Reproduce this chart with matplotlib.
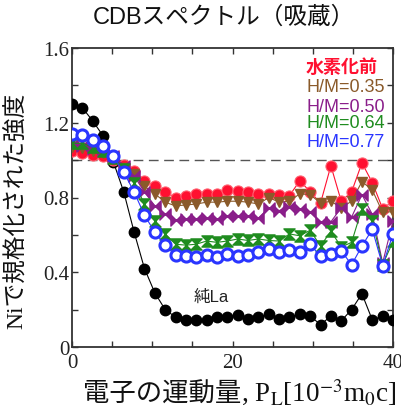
import matplotlib
matplotlib.use("Agg")
import matplotlib.pyplot as plt
from matplotlib.path import Path
from matplotlib.ticker import MultipleLocator, FuncFormatter

# ---- data ----
x = [0.00, 1.29, 2.58, 3.87, 5.16, 6.45, 7.74, 9.03, 10.32, 11.61, 12.90, 14.19,
     15.48, 16.77, 18.06, 19.35, 20.65, 21.94, 23.23, 24.52, 25.81, 27.10, 28.39,
     29.68, 30.97, 32.26, 33.55, 34.84, 36.13, 37.42, 38.71, 40.00]

pure_la = [1.30, 1.28, 1.21, 1.13, 0.99, 0.83, 0.615, 0.42, 0.29, 0.20, 0.16, 0.145,
           0.145, 0.145, 0.16, 0.16, 0.17, 0.15, 0.16, 0.175, 0.15, 0.16, 0.175, 0.165,
           0.12, 0.165, 0.14, 0.20, 0.285, 0.145, 0.165, 0.145]
before = [1.05, 1.04, 1.03, 1.02, 1.00, 0.975, 0.94, 0.89, 0.86, 0.83, 0.80, 0.81,
          0.82, 0.82, 0.82, 0.84, 0.835, 0.83, 0.82, 0.82, 0.815, 0.81, 0.89, 0.83,
          0.77, 0.97, 0.78, 0.83, 0.985, 0.88, 0.74, 0.78]
hm035 = [1.07, 1.065, 1.05, 1.04, 1.01, 0.96, 0.925, 0.86, 0.82, 0.775, 0.755, 0.76,
         0.765, 0.775, 0.775, 0.78, 0.78, 0.775, 0.765, 0.80, 0.775, 0.78, 0.82, 0.815,
         0.77, 0.78, 0.745, 0.78, 0.885, 0.84, 0.72, 0.725]
hm050 = [1.08, 1.075, 1.06, 1.05, 1.02, 0.97, 0.915, 0.83, 0.755, 0.71, 0.68, 0.685,
         0.685, 0.69, 0.685, 0.70, 0.70, 0.70, 0.69, 0.745, 0.73, 0.75, 0.74, 0.72,
         0.67, 0.67, 0.745, 0.695, 0.815, 0.71, 0.45, 0.675]
hm064 = [1.09, 1.09, 1.07, 1.05, 1.01, 0.95, 0.88, 0.765, 0.675, 0.605, 0.55, 0.545,
         0.55, 0.567, 0.56, 0.567, 0.578, 0.57, 0.578, 0.57, 0.567, 0.605, 0.595, 0.625,
         0.54, 0.62, 0.535, 0.56, 0.74, 0.675, 0.44, 0.565]
hm077 = [1.14, 1.135, 1.11, 1.075, 1.02, 0.935, 0.83, 0.705, 0.615, 0.545, 0.49, 0.485,
         0.48, 0.49, 0.48, 0.50, 0.485, 0.49, 0.51, 0.525, 0.51, 0.52, 0.51, 0.55,
         0.485, 0.50, 0.515, 0.44, 0.54, 0.63, 0.435, 0.605]

legend_labels = ["水素化前", "H/M=0.35", "H/M=0.50", "H/M=0.64", "H/M=0.77"]

# ---- styles ----
C_RED = "#ff1030"
C_BROWN = "#8a5a2a"
C_PURPLE = "#8a1e8a"
C_GREEN = "#1f8c1f"
C_BLUE = "#2a35ff"

bowtie = Path([(-1, -1), (-1, 1), (0, 0), (-1, -1), (1, -1), (1, 1), (0, 0), (1, -1)],
              [Path.MOVETO, Path.LINETO, Path.LINETO, Path.CLOSEPOLY,
               Path.MOVETO, Path.LINETO, Path.LINETO, Path.CLOSEPOLY])
hourglass = Path([(-1, 1), (1, 1), (0, 0), (-1, 1), (-1, -1), (1, -1), (0, 0), (-1, -1)],
                 [Path.MOVETO, Path.LINETO, Path.LINETO, Path.CLOSEPOLY,
                  Path.MOVETO, Path.LINETO, Path.LINETO, Path.CLOSEPOLY])

plt.rcParams['font.family'] = ['Liberation Sans', 'Noto Sans CJK JP']
plt.rcParams['mathtext.fontset'] = 'stix'

fig = plt.figure(figsize=(4.01, 4.10), dpi=100)
ax = fig.add_axes([72/401, 62/410, 321/401, 299/410])

ax.axhline(1.0, color="#555555", lw=1.0, dashes=(7, 4), zorder=1)

ax.plot(x, pure_la, color="black", lw=0.8, marker="o", ms=7.5, mfc="black",
        mec="black", zorder=3)
ax.plot(x, before, color=C_RED, lw=0.8, marker="o", ms=8, mfc=C_RED,
        mec="#ff6070", mew=0.8, zorder=4)
ax.plot(x, hm035, color=C_BROWN, lw=0.8, marker="v", ms=7, mfc=C_BROWN,
        mec=C_BROWN, zorder=5)
ax.plot(x, hm050, color=C_PURPLE, lw=0.8, marker=bowtie, ms=8, mfc=C_PURPLE,
        mec=C_PURPLE, zorder=5)
ax.plot(x, hm064, color=C_GREEN, lw=0.8, marker=hourglass, ms=8, mfc=C_GREEN,
        mec=C_GREEN, zorder=5)
ax.plot(x, hm077, color=C_BLUE, lw=0.8, marker="o", ms=8, mfc="white",
        mec=C_BLUE, mew=2.2, zorder=6)

ax.set_xlim(0, 40)
ax.set_ylim(0, 1.6)
ax.xaxis.set_major_locator(MultipleLocator(20))
ax.xaxis.set_minor_locator(MultipleLocator(5))
ax.yaxis.set_major_locator(MultipleLocator(0.4))
ax.yaxis.set_minor_locator(MultipleLocator(0.2))
ax.yaxis.set_major_formatter(FuncFormatter(lambda v, p: "0" if abs(v) < 1e-9 else f"{v:.1f}"))
ax.tick_params(which="both", direction="in", top=True, right=True, length=4.5,
               width=1.0, color="#333333")
ax.tick_params(which="major", labelsize=15, pad=2, labelcolor="#222222")
ax.tick_params(axis="x", which="major", pad=4)
for lab in ax.get_xticklabels() + ax.get_yticklabels():
    lab.set_family(['Liberation Serif'])
for s in ax.spines.values():
    s.set_linewidth(1.3)
    s.set_color("#333333")

# x label: Japanese part + serif math part
fig.text(241/401, 1 - 402/410, "電子の運動量", ha="right", va="baseline",
         fontsize=19, family=['Noto Sans CJK JP'], color="#111111")
fig.text(241/401, 1 - 402/410, ", P$_\\mathrm{L}$[10$^{-3}$m$_0$c]", ha="left",
         va="baseline", fontsize=19.5, family=['Liberation Serif'], color="#111111")

ax.set_ylabel("Niで規格化された強度", fontsize=17,
              family=['Liberation Serif', 'Noto Sans CJK JP'], color="#111111")
ax.yaxis.set_label_coords(-0.137, 0.46)

fig.text(224/401, 1 - 18/410, "CDBスペクトル（吸蔵）", ha="center", va="center",
         fontsize=17, color="#111111")

leg_colors = [C_RED, C_BROWN, C_PURPLE, C_GREEN, C_BLUE]
leg_y = [68, 88, 108, 123, 143]
leg_right = [378, 385, 385, 385, 385]
for lab, col, py, rx in zip(legend_labels, leg_colors, leg_y, leg_right):
    fig.text(rx/401, 1 - py/410, lab, ha="right",
             va="center", fontsize=13, color=col,
             fontweight="bold" if lab == "水素化前" else "normal")

ax.text(17.4, 0.27, "純La", ha="center", va="center", fontsize=12, color="#222222")

fig.savefig("out.png", dpi=100)
